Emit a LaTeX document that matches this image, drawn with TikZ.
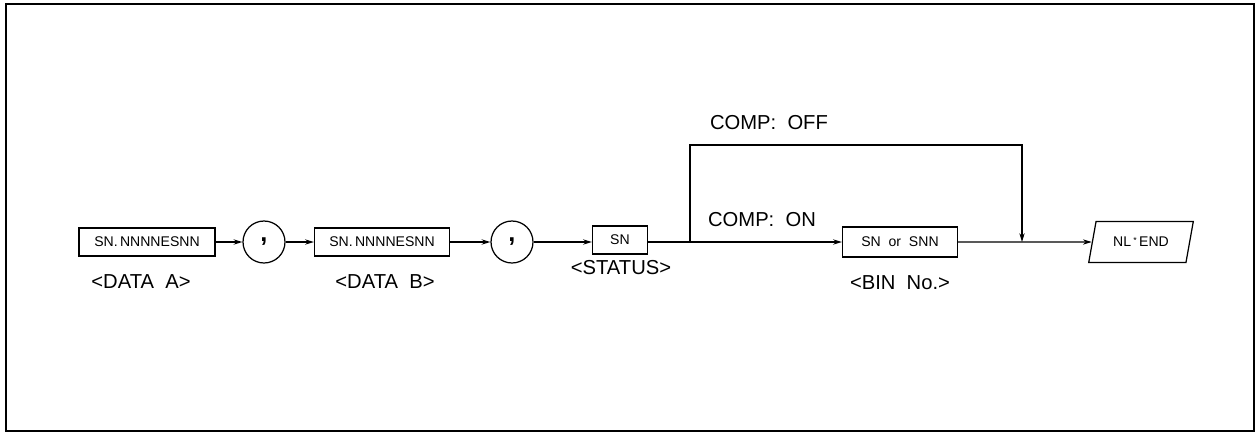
\documentclass[tikz,border=0pt]{standalone}
\usepackage{fontspec}
\setmainfont{Liberation Sans}
\usetikzlibrary{arrows.meta,shapes.geometric}

\begin{document}
\begin{tikzpicture}
[   x=0.02cm, y=-0.02cm, line width=0.7pt,
    field/.style={draw, rectangle, minimum height=0.56cm, inner sep=0, font=\fontsize{8}{8}\selectfont},
    sep/.style={draw, circle, minimum size=0.84cm, inner sep=0, font=\Large\bfseries},
    term/.style={draw, trapezium, trapezium left angle=65, trapezium right angle=115, trapezium stretches=true, minimum width=2.1cm, minimum height=0.82cm, inner sep=0, font=\fontsize{8}{8}\selectfont},
    tag/.style={font=\fontsize{11.5}{11.5}\selectfont},
    flow/.style={-{Stealth[length=5pt,width=3pt]}}
]
    \useasboundingbox (0,0) rectangle (1257,433);
    \draw[line width=1.3pt] (6,4) rectangle (1254,431);

    \node[field, minimum width=2.72cm] (dataA) at (147,242) {SN.\,NNNNESNN};
    \node[sep] (c1) at (264,242) {,};
    \node[field, minimum width=2.7cm] (dataB) at (382,242) {SN.\,NNNNESNN};
    \node[sep] (c2) at (512,242) {,};
    \node[field, minimum width=1.1cm] (status) at (620,240) {SN};
    \node[field, minimum width=2.3cm, minimum height=0.6cm] (bin) at (900,242) {SN~~or~~SNN};
    \node[term] (nlend) at (1141,242) {NL\,\raisebox{0.5ex}{\tiny *}\,END};

    \node[tag] (tagA) at (141,282) {<DATA~~A>};
    \node[tag] (tagB) at (385,282) {<DATA~~B>};
    \node[tag] (tagS) at (621,268) {<STATUS>};
    \node[tag] (tagN) at (900,283) {<BIN~~No.>};
    \node[tag] (off) at (769,123) {COMP:~~OFF};
    \node[tag] (on) at (762,220) {COMP:~~ON};

    \coordinate (fork) at (690,242);
    \coordinate (join) at (1022,242);

    \draw[flow] (dataA) -- (c1);
    \draw[flow] (c1) -- (dataB);
    \draw[flow] (dataB) -- (c2);
    \draw[flow] (c2) -- (c2 -| status.west);
    \draw[flow] (status.east |- fork) -- (bin);
    \draw[flow] (fork) -- ++(0,-97) -| (join);
    \draw[flow] (bin) -- (nlend);
\end{tikzpicture}
\end{document}
